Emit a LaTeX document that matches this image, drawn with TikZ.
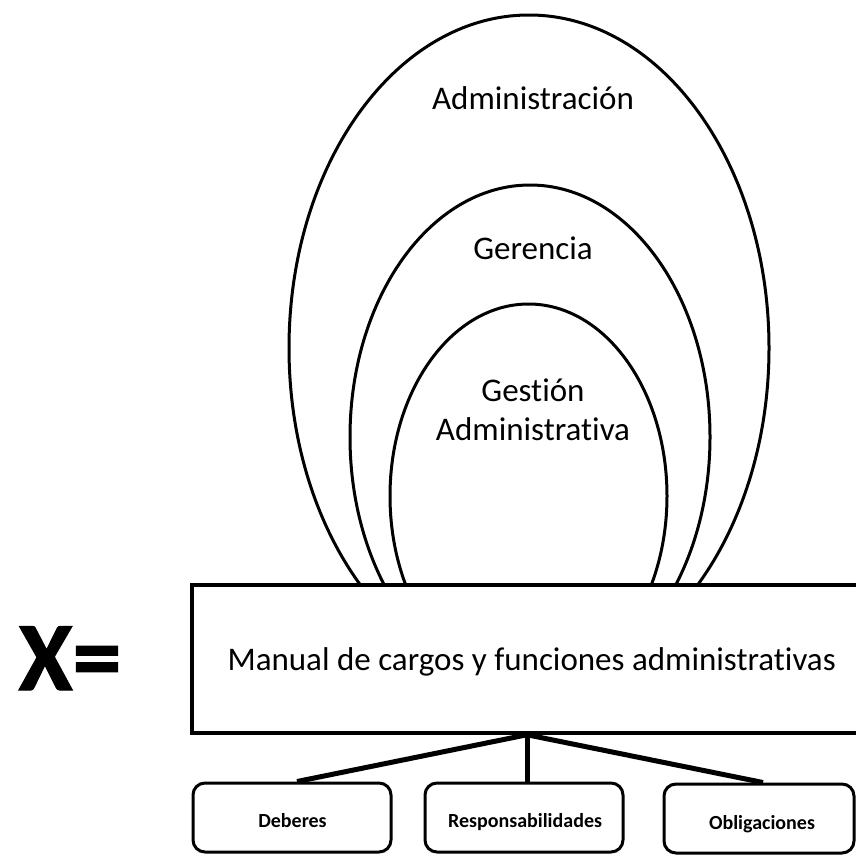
\documentclass[tikz,border=0pt]{standalone}
\usepackage{fontspec}
\setmainfont{Carlito}[Ligatures={NoCommon,NoContextual},RawFeature={-liga;-clig;-dlig}]
\newfontfamily\heavyfont{Carlito}[BoldFeatures={FakeBold=1.2}]
\begin{document}
\begin{tikzpicture}[x=1pt,y=-1pt,
  ring/.style={draw=black,line width=3pt},
  lbl/.style={font=\fontsize{33}{39}\selectfont,anchor=base,inner sep=0pt},
  mainbox/.style={draw=black,fill=white,line width=3.5pt,minimum width=670pt,minimum height=148pt,inner sep=0pt},
  subbox/.style={draw=black,fill=white,line width=3pt,rounded corners=12pt,minimum height=69pt,inner sep=0pt},
  sublbl/.style={font=\bfseries\fontsize{20}{24}\selectfont,anchor=base,inner sep=0pt},
  link/.style={draw=black,line width=5pt}]
\useasboundingbox (0,0) rectangle (856,855);
% nested ellipses
\draw[ring] (529,348) ellipse [x radius=240pt, y radius=333pt];
\draw[ring] (530,437) ellipse [x radius=180pt, y radius=252pt];
\draw[ring] (528.5,496) ellipse [x radius=138.5pt, y radius=192pt];
\node[lbl] (adm) at (533,109) {Administración};
\node[lbl] (ger) at (533,259) {Gerencia};
\node[lbl] (ges) at (533,401) {Gestión};
\node[lbl] (gesadm) at (533,440) {Administrativa};
% main box
\node[mainbox] (main) at (527,659) {};
\node[font=\fontsize{33}{39}\selectfont,anchor=base east,inner sep=0pt] (maintxt) at (836,670) {Manual de cargos y funciones administrativas};
% X=
\node[font=\heavyfont\bfseries\fontsize{98}{110}\selectfont,inner sep=0pt,anchor=base] (x) at (70,690) {X=};
% sub boxes
\node[subbox,minimum width=198pt] (deb) at (292,817.5) {};
\node[subbox,minimum width=198pt] (res) at (524,817.5) {};
\node[subbox,minimum width=190pt] (obl) at (759,818.5) {};
\node[sublbl] (debt) at (292.5,827) {Deberes};
\node[sublbl] (rest) at (525,827) {Responsabilidades};
\node[sublbl] (oblt) at (762,829) {Obligaciones};
% connectors
\draw[link] (main.south) -- ([xshift=5pt]deb.north);
\draw[link] (main.south) -- (main.south |- res.north);
\draw[link] (main.south) -- ([xshift=4pt]obl.north);
\end{tikzpicture}
\end{document}
